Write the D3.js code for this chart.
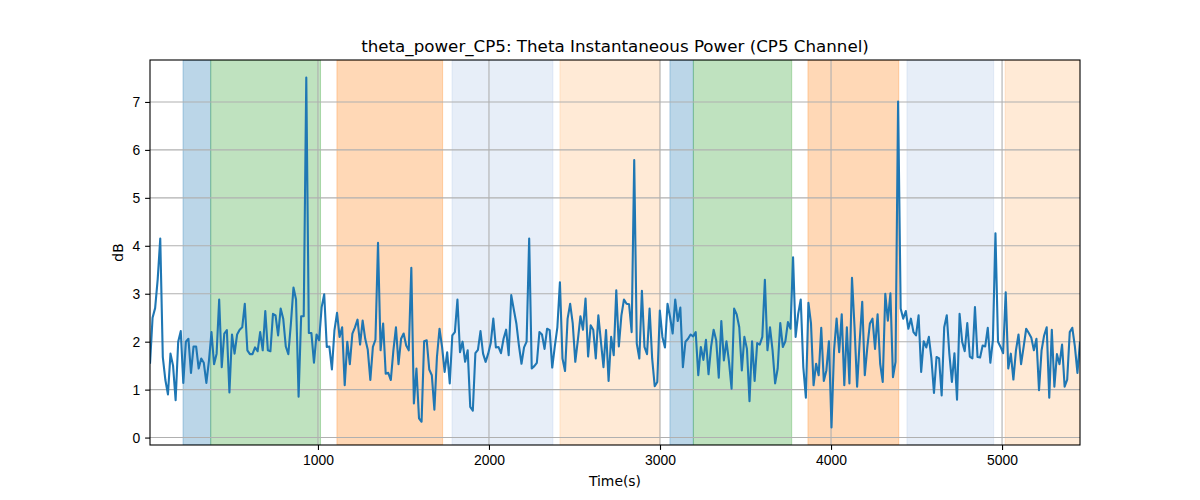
<!DOCTYPE html>
<html>
<head>
<meta charset="UTF-8">
<title>theta_power_CP5</title>
<script type="text/javascript" src="https://d3js.org/d3.v7.min.js"></script>
<style type="text/css">
	body { margin: 0; background: #fff; }
	svg { font-family: "DejaVu Sans", sans-serif; }
	.tick text { font-size: 13.9px; fill: #000; }
	.tick line { stroke: #000; stroke-width: 1.1; }
	.grid line { stroke: #b0b0b0; stroke-width: 1.1; }
</style>
</head>
<body>
<div id="div_main"></div>

<script type="text/javascript">

	// sampling of the series (seconds)
	var t_start = 18;
	var t_step = 14.98;

	// theta power (dB), one value per sample
	var theta_power = [
		1.54,2.5,2.7,3.3,4.15,1.68,1.2,0.9,1.75,1.5,0.78,2.0,2.22,1.14,2.0,2.06,1.35,1.9,1.9,1.44,1.65,1.56,1.14,1.6,2.2,1.53,1.75,2.88,1.47,2.17,2.24,0.94,2.15,1.75,2.15,2.25,2.3,2.79,1.82,1.74,1.74,1.88,1.8,2.2,1.82,2.64,1.82,
		1.8,2.58,2.55,2.13,2.69,2.48,1.9,1.74,2.38,3.13,2.88,0.85,2.53,2.53,7.51,2.18,2.18,1.56,2.15,2.03,2.72,2.99,1.89,1.9,1.42,2.24,2.6,2.1,2.3,1.09,2.0,1.53,2.17,2.3,2.46,1.94,2.44,2.06,1.83,1.2,1.89,2.04,4.06,1.82,2.38,
		1.33,1.35,1.2,1.82,2.3,1.53,2.06,2.17,1.92,1.82,3.54,0.71,1.44,0.4,0.33,2.01,2.03,1.42,1.3,0.58,1.68,2.27,1.89,1.37,1.78,1.13,2.13,2.2,2.88,1.78,2.0,1.58,1.82,0.64,0.56,1.76,1.83,2.22,1.75,1.58,1.75,1.97,2.48,1.88,1.89,
		1.76,2.06,2.25,1.72,2.97,2.67,2.38,1.92,1.54,1.88,2.0,4.15,1.44,1.49,1.56,2.2,2.15,1.85,2.27,2.24,1.46,1.9,2.3,3.24,1.65,1.39,2.48,2.79,2.38,1.58,2.03,2.53,2.25,2.9,1.69,2.34,2.25,1.65,2.55,2.0,1.47,2.24,1.18,2.1,1.72,3.07,
		1.9,2.55,2.88,2.79,2.78,2.2,5.79,1.96,1.65,3.06,1.89,1.74,2.69,1.65,1.07,1.16,2.65,2.1,1.88,2.79,2.51,2.17,2.88,2.43,2.71,1.47,2.0,2.06,2.15,2.11,2.2,1.3,1.89,1.62,2.04,1.32,1.89,2.25,2.03,1.25,2.43,1.61,2.01,1.58,1.02,
		2.69,2.57,2.3,1.4,2.1,1.85,0.76,2.01,1.18,1.97,1.94,2.1,3.29,1.82,2.3,1.82,1.13,1.44,2.39,1.89,2.01,2.41,2.27,3.76,2.1,2.58,2.88,1.47,0.83,2.81,2.38,1.09,1.54,1.3,2.29,1.18,1.4,2.01,0.21,1.82,2.48,1.78,2.57,1.09,2.3,
		1.13,3.33,2.3,1.06,2.01,2.83,1.3,1.89,2.38,2.48,1.85,2.57,1.54,1.16,3.0,2.44,3.01,1.26,1.58,7.01,2.69,2.48,2.64,2.27,2.48,2.2,2.13,2.55,1.37,2.01,1.88,2.1,1.65,0.93,1.68,1.65,0.88,2.3,2.55,1.75,1.16,1.76,0.79,2.58,2.0,
		1.8,2.39,1.69,1.65,2.72,1.68,1.67,1.92,1.9,2.29,1.56,2.03,4.26,2.0,1.89,1.76,3.03,1.44,1.75,1.21,1.82,2.15,1.53,1.89,2.27,2.18,2.08,1.82,2.06,0.99,1.82,2.13,2.3,0.83,2.25,1.06,1.74,1.53,1.94,1.06,1.21,2.2,2.29,1.9,1.35,2.0
	];

	// shaded segments (seconds)
	var span_start = [211, 373, 1111, 1784, 2415, 3058, 3195, 3865, 4444, 5018];
	var span_end   = [373, 1015, 1729, 2374, 2998, 3195, 3770, 4396, 4951, 5470];
	var span_color = ["#1f77b4", "#2ca02c", "#ff7f0e", "#aec7e8", "#ffbb78",
	                  "#1f77b4", "#2ca02c", "#ff7f0e", "#aec7e8", "#ffbb78"];

	var x_ticks = [1000, 2000, 3000, 4000, 5000];
	var y_ticks = [0, 1, 2, 3, 4, 5, 6, 7];

	var svg_w = 1200, svg_h = 500;
	var m_left = 150, m_right = 1080, m_top = 60, m_bottom = 445;

	var dataset = theta_power.map(function (v, i) { return { t: t_start + i * t_step, v: v }; });
	var spans = span_start.map(function (s, i) { return { s: s, e: span_end[i], c: span_color[i] }; });

	var t_ext = d3.extent(dataset, function (d) { return d.t; });
	var v_ext = d3.extent(dataset, function (d) { return d.v; });
	var v_pad = (v_ext[1] - v_ext[0]) * 0.05;

	var scaleX = d3.scaleLinear().domain(t_ext).range([m_left, m_right]);
	var scaleY = d3.scaleLinear().domain([v_ext[0] - v_pad, v_ext[1] + v_pad]).range([m_bottom, m_top]);

	var svg = d3.select("#div_main")
				.append("svg")
					.attr("width", svg_w)
					.attr("height", svg_h);

	svg.append("clipPath").attr("id", "clip")
		.append("rect")
			.attr("x", m_left).attr("y", m_top)
			.attr("width", m_right - m_left).attr("height", m_bottom - m_top);

	var plot = svg.append("g").attr("clip-path", "url(#clip)");

	// spans
	plot.selectAll("rect.span")
			.data(spans)
			.enter()
			.append("rect")
				.attr("class", "span")
				.attr("x", function (d) { return scaleX(d.s); })
				.attr("y", m_top)
				.attr("width", function (d) { return scaleX(d.e) - scaleX(d.s); })
				.attr("height", m_bottom - m_top)
				.attr("fill", function (d) { return d.c; })
				.attr("fill-opacity", 0.3)
				.attr("stroke", function (d) { return d.c; })
				.attr("stroke-opacity", 0.3)
				.attr("stroke-width", 1);

	// grid
	plot.append("g").attr("class", "grid")
		.selectAll("line")
		.data(x_ticks)
		.enter()
		.append("line")
			.attr("x1", function (d) { return scaleX(d); })
			.attr("x2", function (d) { return scaleX(d); })
			.attr("y1", m_top).attr("y2", m_bottom);

	plot.append("g").attr("class", "grid")
		.selectAll("line")
		.data(y_ticks)
		.enter()
		.append("line")
			.attr("y1", function (d) { return scaleY(d); })
			.attr("y2", function (d) { return scaleY(d); })
			.attr("x1", m_left).attr("x2", m_right);

	// line
	var line = d3.line()
				.x(function (d) { return scaleX(d.t); })
				.y(function (d) { return scaleY(d.v); });

	plot.append("path")
		.datum(dataset)
		.attr("d", line)
		.attr("fill", "none")
		.attr("stroke", "#1f77b4")
		.attr("stroke-width", 2.1)
		.attr("stroke-linejoin", "round");

	// axes
	var axisX = d3.axisBottom(scaleX).tickValues(x_ticks).tickSize(4.9).tickPadding(4.9).tickFormat(d3.format("d"));
	var axisY = d3.axisLeft(scaleY).tickValues(y_ticks).tickSize(4.9).tickPadding(4.9).tickFormat(d3.format("d"));

	var gx = svg.append("g").attr("transform", "translate(0," + m_bottom + ")").call(axisX);
	var gy = svg.append("g").attr("transform", "translate(" + m_left + ",0)").call(axisY);
	gx.select(".domain").remove();
	gy.select(".domain").remove();

	svg.append("rect")
		.attr("x", m_left).attr("y", m_top)
		.attr("width", m_right - m_left).attr("height", m_bottom - m_top)
		.attr("fill", "none")
		.attr("stroke", "#000")
		.attr("stroke-width", 1.1);

	// labels
	svg.append("text")
		.attr("x", (m_left + m_right) / 2).attr("y", 52)
		.attr("text-anchor", "middle")
		.style("font-size", "16.7px")
		.text("theta_power_CP5: Theta Instantaneous Power (CP5 Channel)");

	svg.append("text")
		.attr("x", (m_left + m_right) / 2).attr("y", 486)
		.attr("text-anchor", "middle")
		.style("font-size", "13.9px")
		.text("Time(s)");

	svg.append("text")
		.attr("transform", "translate(123," + ((m_top + m_bottom) / 2) + ") rotate(-90)")
		.attr("text-anchor", "middle")
		.style("font-size", "13.9px")
		.text("dB");

</script>
</body>
</html>
